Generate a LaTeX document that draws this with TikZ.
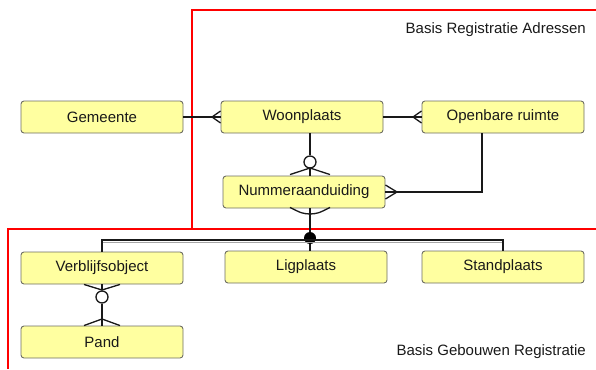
\documentclass[tikz,border=0pt]{standalone}
\usepackage{fontspec}
\setmainfont{Liberation Sans}
\usetikzlibrary{calc}
\definecolor{boxfill}{RGB}{255,255,160}
\definecolor{boxline}{RGB}{110,110,100}
\definecolor{txt}{RGB}{25,25,25}
\tikzset{
  box/.style={draw=boxline, fill=boxfill, rounded corners=3pt, minimum width=162pt, minimum height=32pt, inner sep=0pt, font=\fontsize{15}{17}\selectfont, text=txt, line width=0.9pt},
  conn/.style={draw=black!90, line width=1.3pt},
  redline/.style={draw=red, line width=2.2pt},
  zerocirc/.style={circle, draw=black!90, fill=white, line width=1.3pt, minimum size=12pt, inner sep=0pt},
  onedot/.style={circle, fill=black, minimum size=12pt, inner sep=0pt},
  lbl/.style={anchor=east, font=\fontsize{15}{17}\selectfont, text=txt, inner sep=0pt}
}
\begin{document}
\begin{tikzpicture}[x=1pt,y=-1pt]
\useasboundingbox (0,0) rectangle (596,369);
% red frames
\draw[redline] (596,10) -- (192,10) -- (192,229);
\draw[redline] (596,229) -- (8,229) -- (8,369);
% labels
\node[lbl] (lblA) at (586,30) {Basis Registratie Adressen};
\node[lbl] (lblG) at (586,352) {Basis Gebouwen Registratie};
% boxes
\node[box] (gem) at (102,117) {Gemeente};
\node[box] (woon) at (302,117) {Woonplaats};
\node[box] (or) at (503,117) {Openbare ruimte};
\node[box] (numm) at (304,192) {Nummeraanduiding};
\node[box] (vo) at (102,268) {Verblijfsobject};
\node[box] (pand) at (102,342) {Pand};
\node[box] (lig) at (306,267) {Ligplaats};
\node[box] (sp) at (503,267) {Standplaats};
% Gemeente - Woonplaats
\draw[conn] (gem.east) -- (woon.west);
\coordinate (fa) at (212,117);
\draw[conn] ($(woon.west)+(0,-6)$) -- (fa) -- ($(woon.west)+(0,6)$);
% Woonplaats - Openbare ruimte
\draw[conn] (woon.east) -- (or.west);
\coordinate (fb) at (413,117);
\draw[conn] ($(or.west)+(0,-6)$) -- (fb) -- ($(or.west)+(0,6)$);
% Woonplaats - Nummeraanduiding
\node[zerocirc] (z1) at (310,162) {};
\draw[conn] (woon.south -| z1) -- (z1);
\draw[conn] (z1) -- (numm.north -| z1);
\coordinate (fc) at (310,168);
\draw[conn] ($(numm.north -| fc)+(-20,-1)$) -- (fc) -- ($(numm.north -| fc)+(20,-1)$);
% Openbare ruimte - Nummeraanduiding
\coordinate (bend) at (482,192);
\draw[conn] (or.south -| bend) -- (bend) -- (numm.east);
\coordinate (fd) at (397,192);
\draw[conn] ($(numm.east)+(0,-7)$) -- (fd) -- ($(numm.east)+(0,7)$);
% Nummeraanduiding - subtypes
\node[onedot] (dot) at (310,238) {};
\draw[conn] (numm.south -| dot) -- (dot);
\coordinate (fe) at (310,214);
\draw[conn] ($(numm.south -| fe)+(-20,-1)$) .. controls ($(numm.south -| fe)+(-8,5)$) .. (fe) .. controls ($(numm.south -| fe)+(8,5)$) .. ($(numm.south -| fe)+(20,-1)$);
\coordinate (bar) at (0,240);
\draw[gray!70, line width=1pt] ($(vo.north |- bar)+(0,2.5)$) -- ($(sp.north |- bar)+(0,2.5)$);
\draw[conn] (vo.north) -- (vo.north |- bar) -- (sp.north |- bar) -- (sp.north);
\draw[conn] (dot) -- (lig.north -| dot);
% Verblijfsobject - Pand
\node[zerocirc] (z2) at (102,297) {};
\draw[conn] (vo.south) -- (z2);
\draw[conn] (z2) -- (pand.north);
\coordinate (ff) at (102,290);
\draw[conn] ($(vo.south)+(-18,0)$) -- (ff) -- ($(vo.south)+(18,0)$);
\coordinate (fg) at (102,319);
\draw[conn] ($(pand.north)+(-18,0)$) -- (fg) -- ($(pand.north)+(18,0)$);
\end{tikzpicture}
\end{document}
